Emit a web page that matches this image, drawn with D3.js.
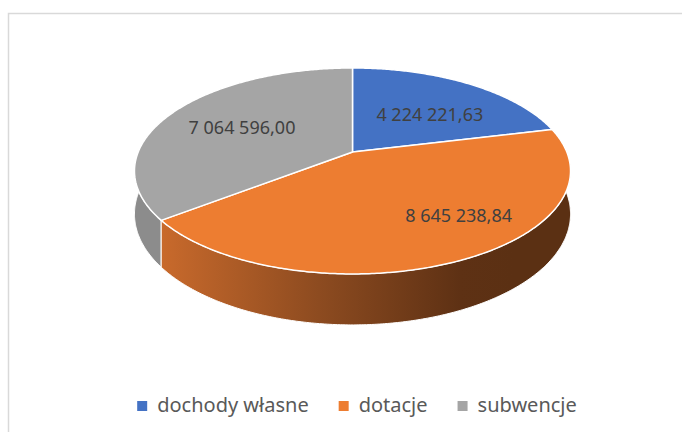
<!DOCTYPE html>
<html>
<head>
<meta charset="utf-8">
<script src="https://cdn.jsdelivr.net/npm/d3@7"></script>
<style>
  body { margin: 0; background: #fff; }
  svg { display: block; font-family: "Noto Sans", sans-serif; }
</style>
</head>
<body>
<svg id="chart" width="682" height="432"></svg>
<script>
// data
const categories = ['dochody własne', 'dotacje', 'subwencje'];
const values = [4224221.63, 8645238.84, 7064596.00];
const colors = ['#4472c4', '#ed7d31', '#a5a5a5'];

(function() {
    const svg = d3.select('#chart');

    // chart frame
    svg.append('rect').attr('x', 8.5).attr('y', 13.5).attr('width', 700).attr('height', 450)
      .attr('fill', '#fff').attr('stroke', '#d9d9d9').attr('stroke-width', 1.5);

    // 3d pie geometry (perspective view of a flat cylinder)
    const cx = 352.5, cy = 152;
    const A = 214.3, B = 99.5, p = 0.184, depth = 41.6;

    function project(theta, r, h) {
        const u = r * Math.sin(theta);
        const v = -r * Math.cos(theta);
        const k = 1 / (1 - p * v);
        return [cx + A * u * k, cy + (B * v + h) * k];
    }

    function arcPoints(a0, a1, h) {
        const n = Math.max(2, Math.ceil(Math.abs(a1 - a0) / 0.01));
        return d3.range(n + 1).map(i => project(a0 + (a1 - a0) * i / n, 1, h));
    }

    const line = d3.line();
    const fmt = d3.formatLocale({ decimal: ',', thousands: '\u00a0', grouping: [3], currency: ['', ''] }).format(',.2f');

    const arcs = d3.pie().sort(null).value(d => d)(values).map((d, i) => Object.assign(d, { i: i }));

    const defs = svg.append('defs');
    const grad = defs.append('linearGradient').attr('id', 'sideOrange')
      .attr('gradientUnits', 'userSpaceOnUse')
      .attr('x1', cx - A * 0.9).attr('x2', cx + A * 0.75).attr('y1', 0).attr('y2', 0);
    grad.selectAll('stop').data([[0, '#c96a2c'], [0.45, '#8d4b20'], [0.85, '#5e3114'], [1, '#5b3013']])
      .enter().append('stop').attr('offset', d => d[0]).attr('stop-color', d => d[1]);

    const sideFill = ['#2f5597', 'url(#sideOrange)', '#8c8c8c'];

    // sides, back to front
    const sideOrder = arcs.slice().sort((a, b) =>
        (-Math.cos((a.startAngle + a.endAngle) / 2)) - (-Math.cos((b.startAngle + b.endAngle) / 2)));

    svg.append('g').attr('class', 'sides').selectAll('path').data(sideOrder).enter().append('path')
      .attr('d', d => {
          const top = arcPoints(d.startAngle, d.endAngle, 0);
          const bottom = arcPoints(d.endAngle, d.startAngle, depth);
          return line(top.concat(bottom)) + 'Z';
      })
      .attr('fill', d => sideFill[d.i])
      .attr('stroke', '#fff').attr('stroke-width', 1).attr('stroke-linejoin', 'round');

    // top faces
    svg.append('g').attr('class', 'tops').selectAll('path').data(arcs).enter().append('path')
      .attr('d', d => line([[cx, cy]].concat(arcPoints(d.startAngle, d.endAngle, 0))) + 'Z')
      .attr('fill', d => colors[d.i])
      .attr('stroke', '#fff').attr('stroke-width', 1.5).attr('stroke-linejoin', 'round');

    // data labels
    const labelNudge = [[2, 7], [42, 2], [3, 2]];
    svg.append('g').attr('class', 'labels').selectAll('text').data(arcs).enter().append('text')
      .attr('x', d => project((d.startAngle + d.endAngle) / 2, 0.62, 0)[0] + labelNudge[d.i][0])
      .attr('y', d => project((d.startAngle + d.endAngle) / 2, 0.62, 0)[1] + labelNudge[d.i][1])
      .attr('dy', '0.35em')
      .attr('text-anchor', 'middle')
      .attr('font-size', 18)
      .attr('fill', '#404040')
      .text(d => fmt(d.value));

    // legend
    const legend = svg.append('g').attr('class', 'legend');
    const items = legend.selectAll('g').data(categories).enter().append('g');
    items.append('rect').attr('width', 10).attr('height', 10).attr('y', -11)
      .attr('fill', (d, i) => colors[i]);
    items.append('text').attr('x', 20).attr('font-size', 20).attr('fill', '#595959').text(d => d);

    let offset = 0;
    items.each(function() {
        const w = 20 + this.querySelector('text').getComputedTextLength();
        d3.select(this).attr('transform', `translate(${offset},0)`);
        offset += w + 30;
    });
    const total = offset - 30;
    legend.attr('transform', `translate(${357 - total / 2},412)`);
})();
</script>
</body>
</html>
